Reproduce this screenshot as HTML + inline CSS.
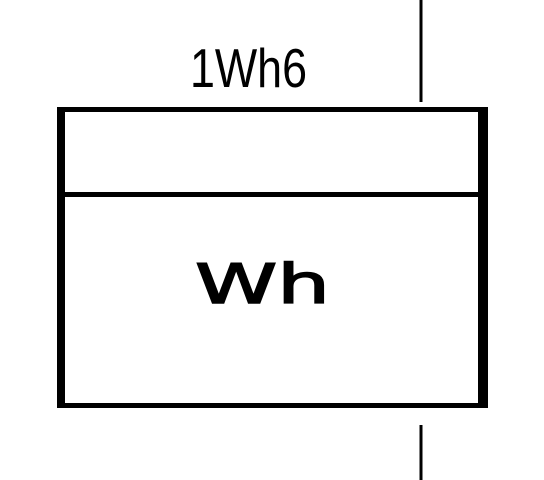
<!DOCTYPE html>
<html><head><meta charset="utf-8">
<style>html,body{margin:0;padding:0;background:#fff;width:544px;height:480px;overflow:hidden}</style>
</head><body>
<svg width="544" height="480" viewBox="0 0 544 480">
  <rect x="0" y="0" width="544" height="480" fill="#fff"/>
  <line x1="421" y1="0" x2="421" y2="102" stroke="#000" stroke-width="3"/>
  <line x1="421" y1="425" x2="421" y2="480" stroke="#000" stroke-width="3"/>
  <text x="190" y="87" font-family="Liberation Sans, sans-serif" font-size="55" textLength="117" lengthAdjust="spacingAndGlyphs" fill="#000">1Wh6</text>
  <rect x="57" y="107" width="8" height="301" fill="#000"/>
  <rect x="478" y="107" width="10" height="301" fill="#000"/>
  <rect x="57" y="107" width="431" height="5" fill="#000"/>
  <rect x="57" y="192" width="431" height="5" fill="#000"/>
  <rect x="57" y="403" width="431" height="5" fill="#000"/>
  <text x="195" y="303" font-family="DejaVu Sans, sans-serif" font-size="54" stroke="#000" stroke-width="1.5" textLength="135" lengthAdjust="spacingAndGlyphs" fill="#000">Wh</text>
</svg>
</body></html>
